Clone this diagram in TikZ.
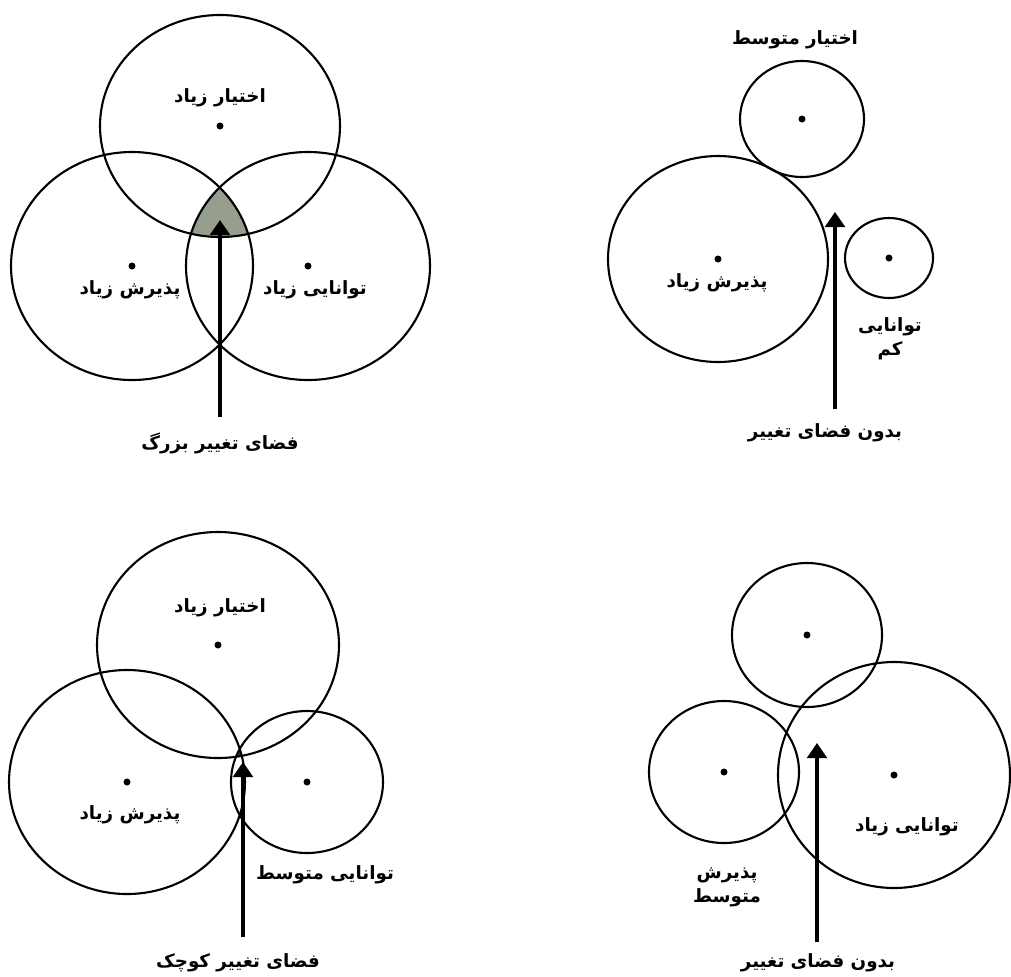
\documentclass[tikz,border=0pt]{standalone}
\usepackage{fontspec}
\newfontfamily\arabicfont[Script=Arabic]{DejaVu Sans}
\TeXXeTstate=1
\usetikzlibrary{arrows.meta}
\definecolor{venngray}{RGB}{150,158,142}
\newcommand{\fa}[1]{\beginR #1\endR}
\tikzset{
  ring/.style={line width=1.5pt},
  pin/.style={fill=black},
  rise/.style={line width=2.2pt,-{Triangle[width=0.5cm,length=0.38cm]}},
  lbl/.style={font=\arabicfont\bfseries\fontsize{13}{17}\selectfont,align=center,inner sep=1pt}
}

\begin{document}
\begin{tikzpicture}[x=0.025cm,y=-0.025cm]
  \useasboundingbox (0,0) rectangle (1011,976);
  % top left: large change space
  \coordinate (A1) at (220,126);
  \coordinate (B1) at (132,266);
  \coordinate (C1) at (308,266);
  \begin{scope}
    \clip (A1) ellipse (120 and 111);
    \clip (B1) ellipse (121 and 114);
    \fill[venngray] (C1) ellipse (122 and 114);
  \end{scope}
  \draw[ring] (A1) ellipse (120 and 111);
  \draw[ring] (B1) ellipse (121 and 114);
  \draw[ring] (C1) ellipse (122 and 114);
  \foreach \p in {A1,B1,C1} \fill[pin] (\p) circle (3.5);
  \node[lbl] (a1) at (220,98) {\fa{اختیار زیاد}};
  \node[lbl] (b1) at (130,290) {\fa{پذیرش زیاد}};
  \node[lbl] (c1) at (315,290) {\fa{توانایی زیاد}};
  \node[lbl] (s1) at (220,443) {\fa{فضای تغییر بزرگ}};
  \coordinate (f1) at (220,417);
  \coordinate (t1) at (220,220);
  \draw[rise] (f1) -- (t1);
  % top right: no change space
  \coordinate (A2) at (802,119);
  \coordinate (B2) at (718,259);
  \coordinate (C2) at (889,258);
  \draw[ring] (A2) ellipse (62 and 58);
  \draw[ring] (B2) ellipse (110 and 103);
  \draw[ring] (C2) ellipse (44 and 40);
  \foreach \p in {A2,B2,C2} \fill[pin] (\p) circle (3.5);
  \node[lbl] (a2) at (795,40) {\fa{اختیار متوسط}};
  \node[lbl] (b2) at (717,283) {\fa{پذیرش زیاد}};
  \node[lbl] (c2) at (890,339) {\fa{توانایی}\\\fa{کم}};
  \node[lbl] (s2) at (825,433) {\fa{بدون فضای تغییر}};
  \coordinate (f2) at (835,409);
  \coordinate (t2) at (835,212);
  \draw[rise] (f2) -- (t2);
  % bottom left: small change space
  \coordinate (A3) at (218,645);
  \coordinate (B3) at (127,782);
  \coordinate (C3) at (307,782);
  \begin{scope}
    \clip (A3) ellipse (121 and 113);
    \clip (B3) ellipse (118 and 112);
    \fill[black!80] (C3) ellipse (76 and 71);
  \end{scope}
  \draw[ring] (A3) ellipse (121 and 113);
  \draw[ring] (B3) ellipse (118 and 112);
  \draw[ring] (C3) ellipse (76 and 71);
  \foreach \p in {A3,B3,C3} \fill[pin] (\p) circle (3.5);
  \node[lbl] (a3) at (220,608) {\fa{اختیار زیاد}};
  \node[lbl] (b3) at (130,815) {\fa{پذیرش زیاد}};
  \node[lbl] (c3) at (325,875) {\fa{توانایی متوسط}};
  \node[lbl] (s3) at (238,963) {\fa{فضای تغییر کوچک}};
  \coordinate (f3) at (243,937);
  \coordinate (t3) at (243,762);
  \draw[rise] (f3) -- (t3);
  % bottom right: no change space
  \coordinate (A4) at (807,635);
  \coordinate (B4) at (724,772);
  \coordinate (C4) at (894,775);
  \draw[ring] (A4) ellipse (75 and 72);
  \draw[ring] (B4) ellipse (75 and 71);
  \draw[ring] (C4) ellipse (116 and 113);
  \foreach \p in {A4,B4,C4} \fill[pin] (\p) circle (3.5);
  \node[lbl] (c4) at (907,827) {\fa{توانایی زیاد}};
  \node[lbl] (b4) at (727,887) {\fa{پذیرش}\\\fa{متوسط}};
  \node[lbl] (s4) at (818,963) {\fa{بدون فضای تغییر}};
  \coordinate (f4) at (817,942);
  \coordinate (t4) at (817,743);
  \draw[rise] (f4) -- (t4);
\end{tikzpicture}
\end{document}
